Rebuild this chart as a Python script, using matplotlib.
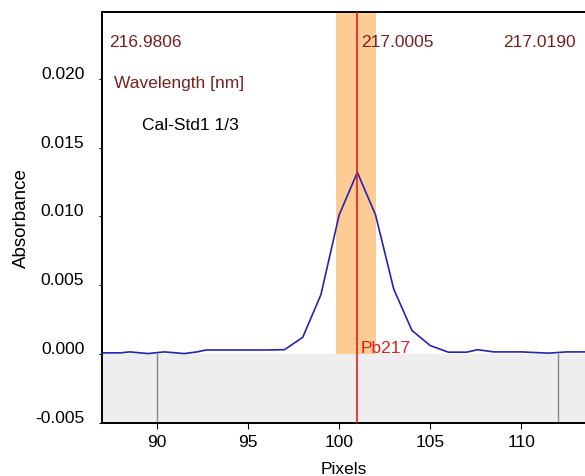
import matplotlib
matplotlib.use('Agg')
import matplotlib.pyplot as plt
import matplotlib.transforms as mtransforms
from matplotlib.ticker import FormatStrFormatter

plt.rcParams['font.family'] = ['Liberation Sans', 'DejaVu Sans']

# spectrum (pixel vs absorbance)
pixels = [87, 88, 88.5, 89.5, 90.4, 91.5, 92.2, 92.7, 94, 95, 96, 97, 98, 99, 100,
          101, 102, 103, 104, 105, 106, 107, 107.6, 108.5, 109, 110, 111.5, 112.5, 113.5]
absorb = [0.00007, 0.00007, 0.00014, 0.00002, 0.00014, 0.00002, 0.00014, 0.00028,
          0.00028, 0.00028, 0.00028, 0.0003, 0.0012, 0.0043, 0.0101, 0.0132, 0.0101,
          0.0047, 0.0017, 0.0006, 0.00012, 0.00012, 0.0003, 0.00014, 0.00014, 0.00014,
          0.00005, 0.00014, 0.00014]

band = (99.85, 102.05)
peak_px = 101.0
marker_px = [90, 112]
wl_labels = ['216.9806', '217.0005', '217.0190']

ymin, ymax = -0.00498, 0.02486
fs = 12.5

fig = plt.figure(figsize=(5.85, 4.77), dpi=100)
ax = fig.add_axes([0.175, 0.112, 0.825, 0.8607])

ax.set_xlim(87.0, 113.5)
ax.set_ylim(ymin, ymax)

# gray region below zero
ax.axhspan(ymin, 0.0, color='#eeeeee', zorder=0)
# integration window
ax.fill_between(band, 0, ymax, color='#fdcb94', lw=0, zorder=1)
for m in marker_px:
    ax.plot([m, m], [ymin, 0], color='#888888', lw=1, zorder=2)
ax.axvline(peak_px, color='#e0201a', lw=1.2, zorder=4)

ax.plot(pixels, absorb, color='#2424b0', lw=1.2, zorder=3)

ax.spines['right'].set_visible(False)
for s in ['left', 'bottom', 'top']:
    ax.spines[s].set_linewidth(1.4)

ax.set_xticks([90, 95, 100, 105, 110])
ax.set_yticks([-0.005, 0.0, 0.005, 0.010, 0.015, 0.020])
ax.yaxis.set_major_formatter(FormatStrFormatter('%.3f'))
ax.tick_params(axis='y', length=2, pad=11, labelsize=fs)
ax.tick_params(axis='x', length=4, pad=4, labelsize=fs)

# y tick labels sit a little above their ticks
shift = mtransforms.ScaledTranslation(0, 7 / 100, fig.dpi_scale_trans)
for lab in ax.get_yticklabels():
    lab.set_transform(lab.get_transform() + shift)

ax.set_xlabel('Pixels', fontsize=fs, labelpad=9)
ax.set_ylabel('Absorbance', fontsize=fs + 1, labelpad=4)

dark_red = '#7a1f1f'
ax.text(0.0145, 0.929, wl_labels[0], transform=ax.transAxes, color=dark_red, fontsize=fs, va='center')
ax.text(0.537, 0.929, wl_labels[1], transform=ax.transAxes, color=dark_red, fontsize=fs, va='center')
ax.text(0.830, 0.929, wl_labels[2], transform=ax.transAxes, color=dark_red, fontsize=fs, va='center')
ax.text(0.025, 0.829, 'Wavelength [nm]', transform=ax.transAxes, color=dark_red, fontsize=fs, va='center')
ax.text(0.083, 0.727, 'Cal-Std1 1/3', transform=ax.transAxes, color='black', fontsize=fs, va='center')
ax.text(peak_px + 0.2, 0.00045, 'Pb217', color='#e0201a', fontsize=fs, va='center')

fig.savefig('out.png', dpi=100)
